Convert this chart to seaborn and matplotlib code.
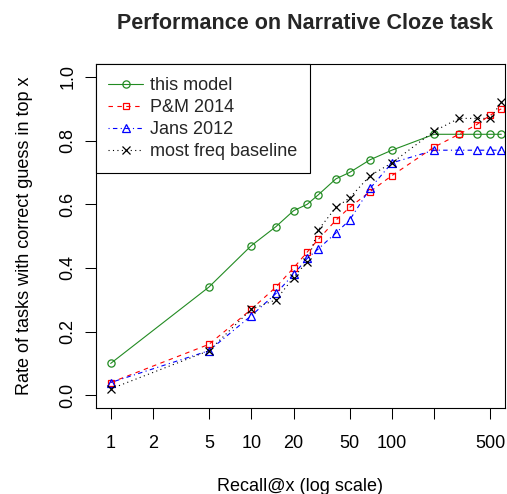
import matplotlib
matplotlib.use('Agg')
import matplotlib.pyplot as plt
import seaborn as sns
import pandas as pd

# recall@x cut-offs
recall_x = [1, 5, 10, 15, 20, 25, 30, 40, 50, 70, 100, 200, 300, 400, 500, 600]

# rate of tasks with correct guess in top x
this_model = [0.10, 0.34, 0.47, 0.53, 0.58, 0.60, 0.63, 0.68, 0.70, 0.74, 0.77, 0.82, 0.82, 0.82, 0.82, 0.82]
pm_2014 = [0.04, 0.16, 0.27, 0.34, 0.40, 0.45, 0.49, 0.55, 0.59, 0.64, 0.69, 0.78, 0.82, 0.85, 0.88, 0.90]
jans_2012 = [0.04, 0.14, 0.25, 0.32, 0.38, 0.43, 0.46, 0.51, 0.55, 0.65, 0.73, 0.77, 0.77, 0.77, 0.77, 0.77]
most_freq = [0.02, 0.14, 0.27, 0.30, 0.37, 0.42, 0.52, 0.59, 0.62, 0.69, 0.73, 0.83, 0.87, 0.87, 0.87, 0.92]

series_names = ['this model', 'P&M 2014', 'Jans 2012', 'most freq baseline']
series_values = [this_model, pm_2014, jans_2012, most_freq]

x_ticks = [1, 2, 5, 10, 20, 50, 100, 200, 500]
x_tick_labels = ['1', '2', '5', '10', '20', '50', '100', '', '500']
y_ticks = [0.0, 0.2, 0.4, 0.6, 0.8, 1.0]
y_tick_labels = ['0.0', '0.2', '0.4', '0.6', '0.8', '1.0']

# R-ish look for each series
styles = {
    'this model': dict(color='forestgreen', marker='o', ls='-', ms=5.2),
    'P&M 2014': dict(color='red', marker='s', ls=(0, (4, 4)), ms=5.0),
    'Jans 2012': dict(color='blue', marker='^', ls=(0, (1, 3, 4, 3)), ms=6.0),
    'most freq baseline': dict(color='black', marker='x', ls=(0, (1, 3)), ms=5.2),
}

sns.set_theme(style='ticks')
plt.rcParams['font.family'] = ['Liberation Sans', 'DejaVu Sans']

fig = plt.figure(figsize=(5.07, 4.94), dpi=100)
ax = fig.add_axes([0.1888, 0.1741, 0.8073, 0.6958])

for name, vals in zip(series_names, series_values):
    df = pd.DataFrame({'x': recall_x, 'y': vals})
    st = styles[name]
    sns.lineplot(data=df, x='x', y='y', ax=ax, label=name,
                 color=st['color'], linestyle=st['ls'], linewidth=0.8,
                 marker=st['marker'], markersize=st['ms'],
                 markerfacecolor='none', markeredgecolor=st['color'],
                 markeredgewidth=0.9)

ax.set_xscale('log')
ax.set_xlim(0.783, 638)
ax.set_ylim(-0.04, 1.04)
ax.set_xticks(x_ticks)
ax.set_xticklabels(x_tick_labels)
ax.minorticks_off()
ax.set_yticks(y_ticks)
ax.set_yticklabels(y_tick_labels)

ax.tick_params(axis='both', direction='out', length=7.9, width=0.75,
               color='black', labelsize=13, labelcolor='black')
ax.tick_params(axis='x', pad=11.5)
ax.tick_params(axis='y', pad=12.2, labelrotation=90)
for lab in ax.get_yticklabels():
    lab.set_ha('center')
    lab.set_va('center')

for sp in ax.spines.values():
    sp.set_visible(True)
    sp.set_color('black')
    sp.set_linewidth(0.8)

ax.set_xlabel('Recall@x (log scale)', fontsize=13, color='black')
ax.xaxis.set_label_coords(0.5, -0.203)
ax.set_ylabel('Rate of tasks with correct guess in top x', fontsize=13, color='black')
ax.yaxis.set_label_coords(-0.153, 0.5)
ax.set_title('Performance on Narrative Cloze task', fontsize=15.5,
             fontweight='bold', pad=25.6, x=0.511)

leg = ax.legend(loc='upper left', bbox_to_anchor=(0, 1), borderaxespad=0,
                fontsize=13, frameon=True, fancybox=False, framealpha=1,
                edgecolor='black', borderpad=0.7, labelspacing=0.28,
                handlelength=1.9, handletextpad=0.4, numpoints=1)
leg.get_frame().set_linewidth(0.8)

fig.savefig('out.png', dpi=100)
